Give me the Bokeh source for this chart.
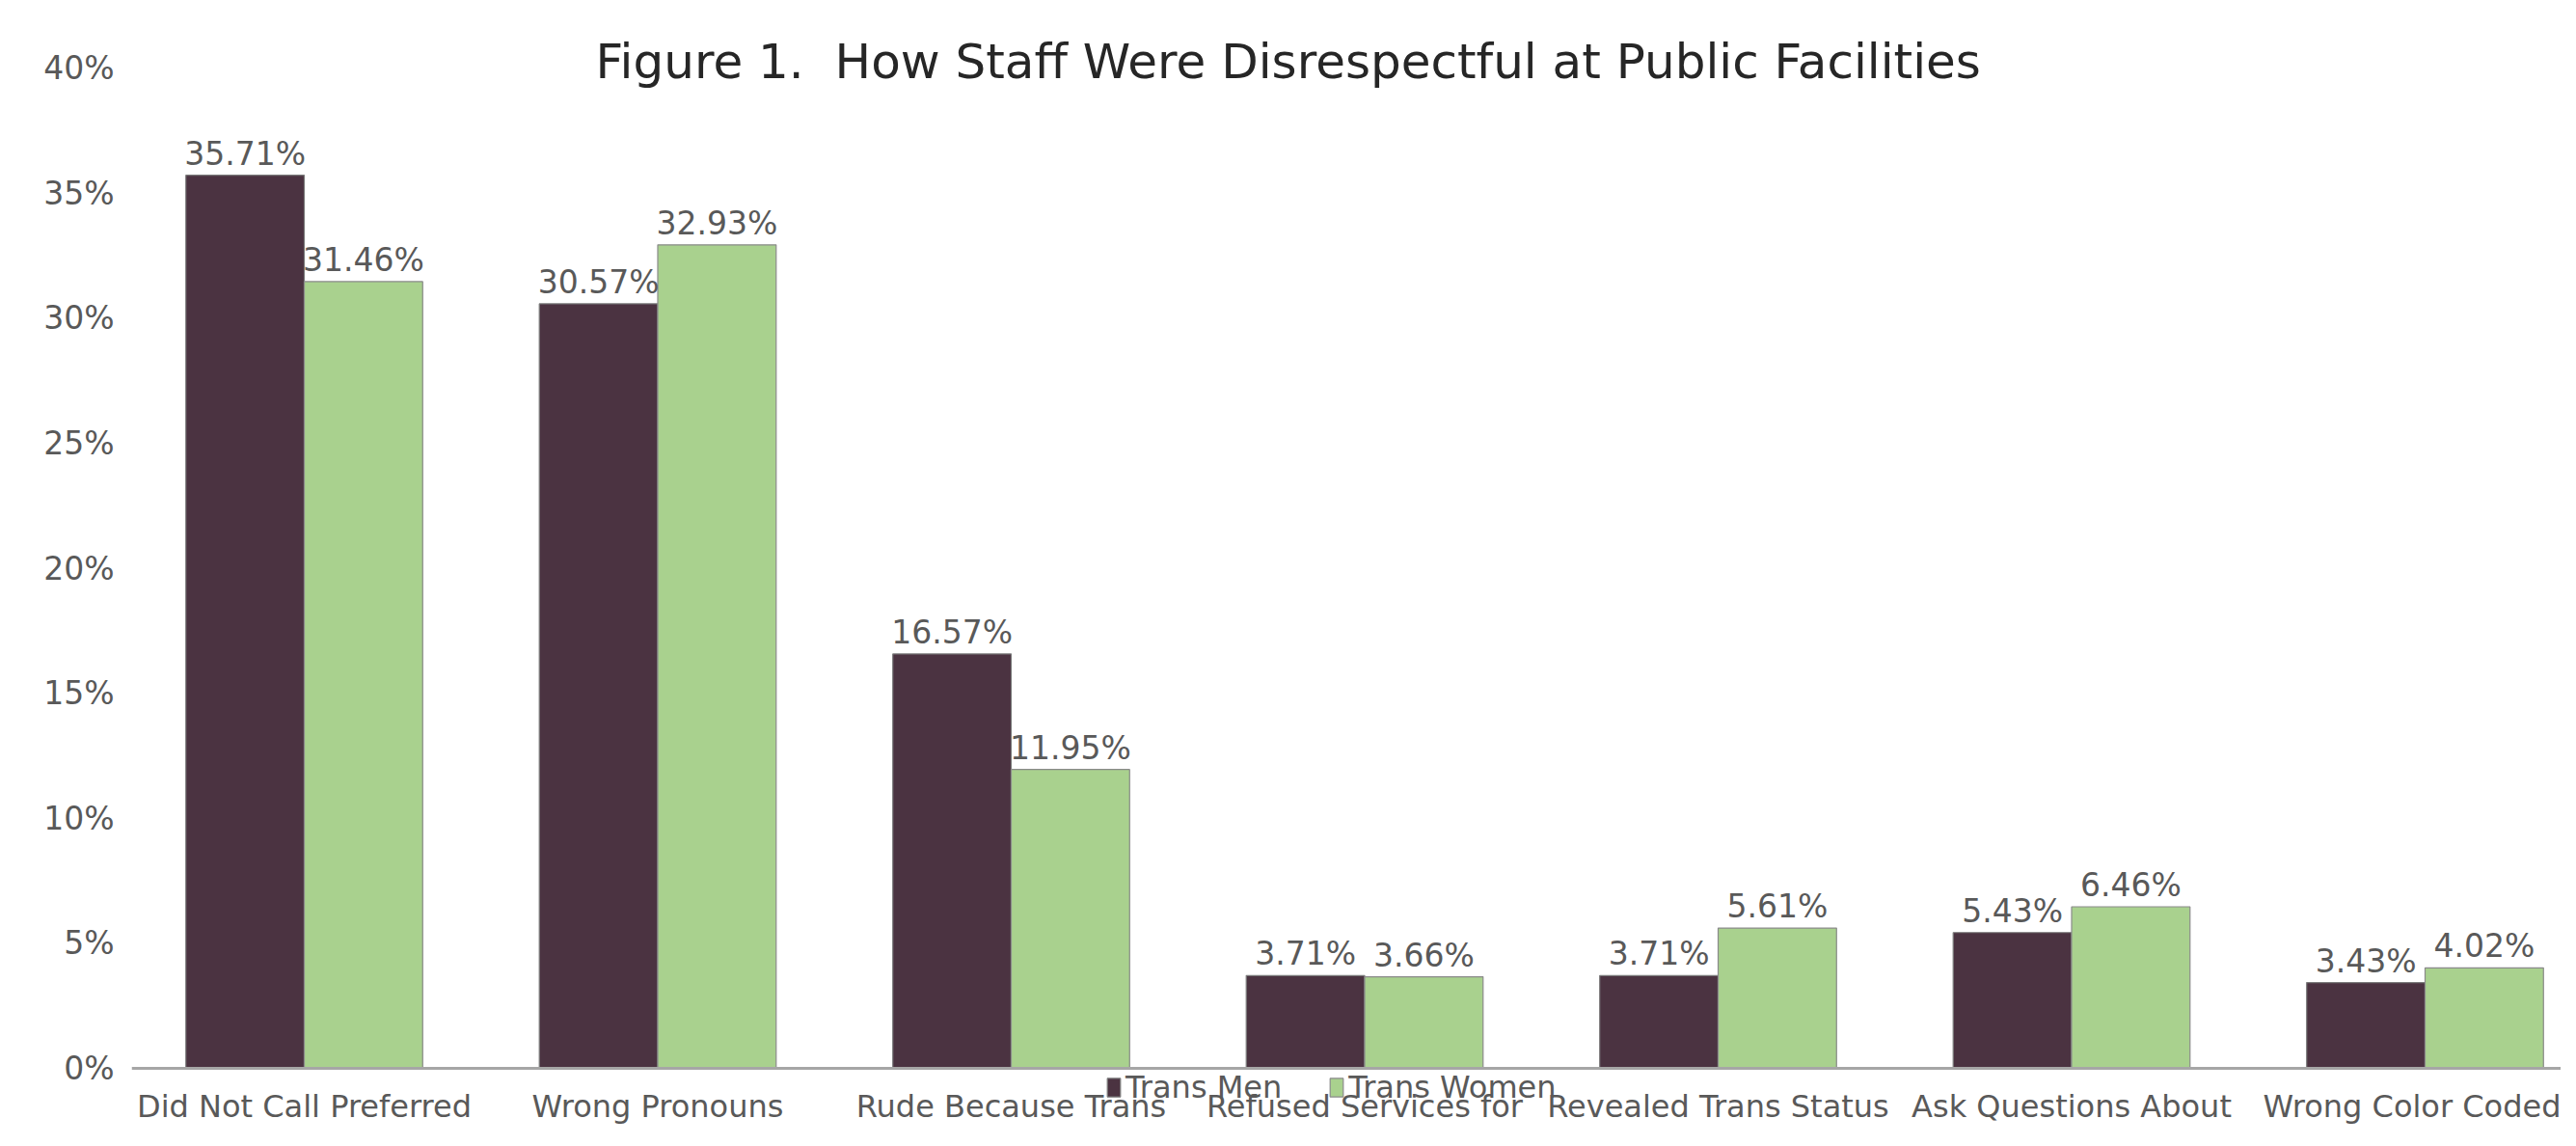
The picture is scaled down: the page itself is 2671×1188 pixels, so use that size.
from bokeh.plotting import figure
from bokeh.models import FixedTicker, PrintfTickFormatter, Range1d, Legend, LegendItem, ColumnDataSource, Label
from bokeh.core.properties import value
from bokeh.embed import file_html
from bokeh.resources import INLINE

title_text = "Figure 1.\u00a0 How Staff Were Disrespectful at Public Facilities"
categories = ["Did Not Call Preferred\nName", "Wrong Pronouns", "Rude Because Trans",
              "Refused Services for\n\"Wrong Gender\"", "Revealed Trans Status\nto Other Staff For No",
              "Ask Questions About\nTrans Not Relevant to", "Wrong Color Coded\nFolder"]
trans_men = [35.71, 30.57, 16.57, 3.71, 3.71, 5.43, 3.43]
trans_women = [31.46, 32.93, 11.95, 3.66, 5.61, 6.46, 4.02]
series_names = ["Trans Men", "Trans Women"]
y_ticks = [0, 5, 10, 15, 20, 25, 30, 35, 40]

FONT = "DejaVu Sans"
DARK = "#4B3341"
GREEN = "#A9D18E"
TXT = "#595959"

W, H = 2655, 1172
LEFT = 136
Y0_PX, Y40_PX = 1107, 70
PX_PER_UNIT = (Y0_PX - Y40_PX) / 40.0
y_end = 40 + Y40_PX / PX_PER_UNIT
y_start = -(H - Y0_PX) / PX_PER_UNIT
CAT_PX = 366.5
x_start = -179 / CAT_PX
x_end = x_start + (W - LEFT) / CAT_PX

p = figure(width=W, height=H, output_backend="svg", toolbar_location=None,
           x_range=Range1d(x_start, x_end), y_range=Range1d(y_start, y_end),
           min_border_left=LEFT, min_border_right=0, min_border_top=0, min_border_bottom=0)

p.outline_line_color = None
p.xgrid.grid_line_color = None
p.ygrid.grid_line_color = None
p.background_fill_color = "white"

bw = 0.335
idx = list(range(len(categories)))
src = ColumnDataSource(dict(
    x=idx,
    xm=[i - bw / 2 for i in idx],
    xw=[i + bw / 2 for i in idx],
    men=trans_men,
    women=trans_women,
    men_lbl=["%.2f%%" % v for v in trans_men],
    women_lbl=["%.2f%%" % v for v in trans_women],
))

r_m = p.vbar(x="xm", top="men", width=bw, bottom=0, source=src, fill_color=DARK,
             line_color="#7a7a7a", line_width=1.2)
r_w = p.vbar(x="xw", top="women", width=bw, bottom=0, source=src, fill_color=GREEN,
             line_color="#8a8a8a", line_width=1.2)

p.text(x="xm", y="men", text="men_lbl", source=src, text_align="center", text_baseline="bottom",
       y_offset=-3, text_font=value(FONT), text_font_size="33px", text_color=TXT)
p.text(x="xw", y="women", text="women_lbl", source=src, text_align="center", text_baseline="bottom",
       y_offset=-3, text_font=value(FONT), text_font_size="33px", text_color=TXT)

# axes
p.yaxis.ticker = FixedTicker(ticks=y_ticks)
p.yaxis.formatter = PrintfTickFormatter(format="%d%%")
p.yaxis.axis_line_color = None
p.yaxis.major_tick_line_color = None
p.yaxis.minor_tick_line_color = None
p.yaxis.major_label_text_font = FONT
p.yaxis.major_label_text_font_size = "33px"
p.yaxis.major_label_text_color = TXT
p.yaxis.major_label_standoff = 12

p.xaxis.fixed_location = 0
p.xaxis.ticker = FixedTicker(ticks=idx)
p.xaxis.major_label_overrides = {i: c for i, c in zip(idx, categories)}
p.xaxis.axis_line_color = "#A6A6A6"
p.xaxis.axis_line_width = 3
p.xaxis.major_tick_line_color = None
p.xaxis.minor_tick_line_color = None
p.xaxis.major_label_text_font = FONT
p.xaxis.major_label_text_font_size = "32px"
p.xaxis.major_label_text_color = TXT
p.xaxis.major_label_standoff = 14

title = Label(x=481, y=H - 63, x_units="screen", y_units="screen", text=title_text,
              text_font=FONT, text_font_size="50px", text_color="#262626",
              text_baseline="middle", text_align="left")
p.add_layout(title)

legend = Legend(items=[LegendItem(label=series_names[0], renderers=[r_m]),
                       LegendItem(label=series_names[1], renderers=[r_w])],
                location=(1010, 26), orientation="horizontal",
                border_line_color=None, background_fill_alpha=0,
                glyph_width=17, glyph_height=24, label_standoff=4, spacing=48,
                padding=0, margin=0,
                label_text_font=FONT, label_text_font_size="32px", label_text_color=TXT)
p.add_layout(legend, "center")

open("out.html", "w").write(file_html(p, INLINE))
